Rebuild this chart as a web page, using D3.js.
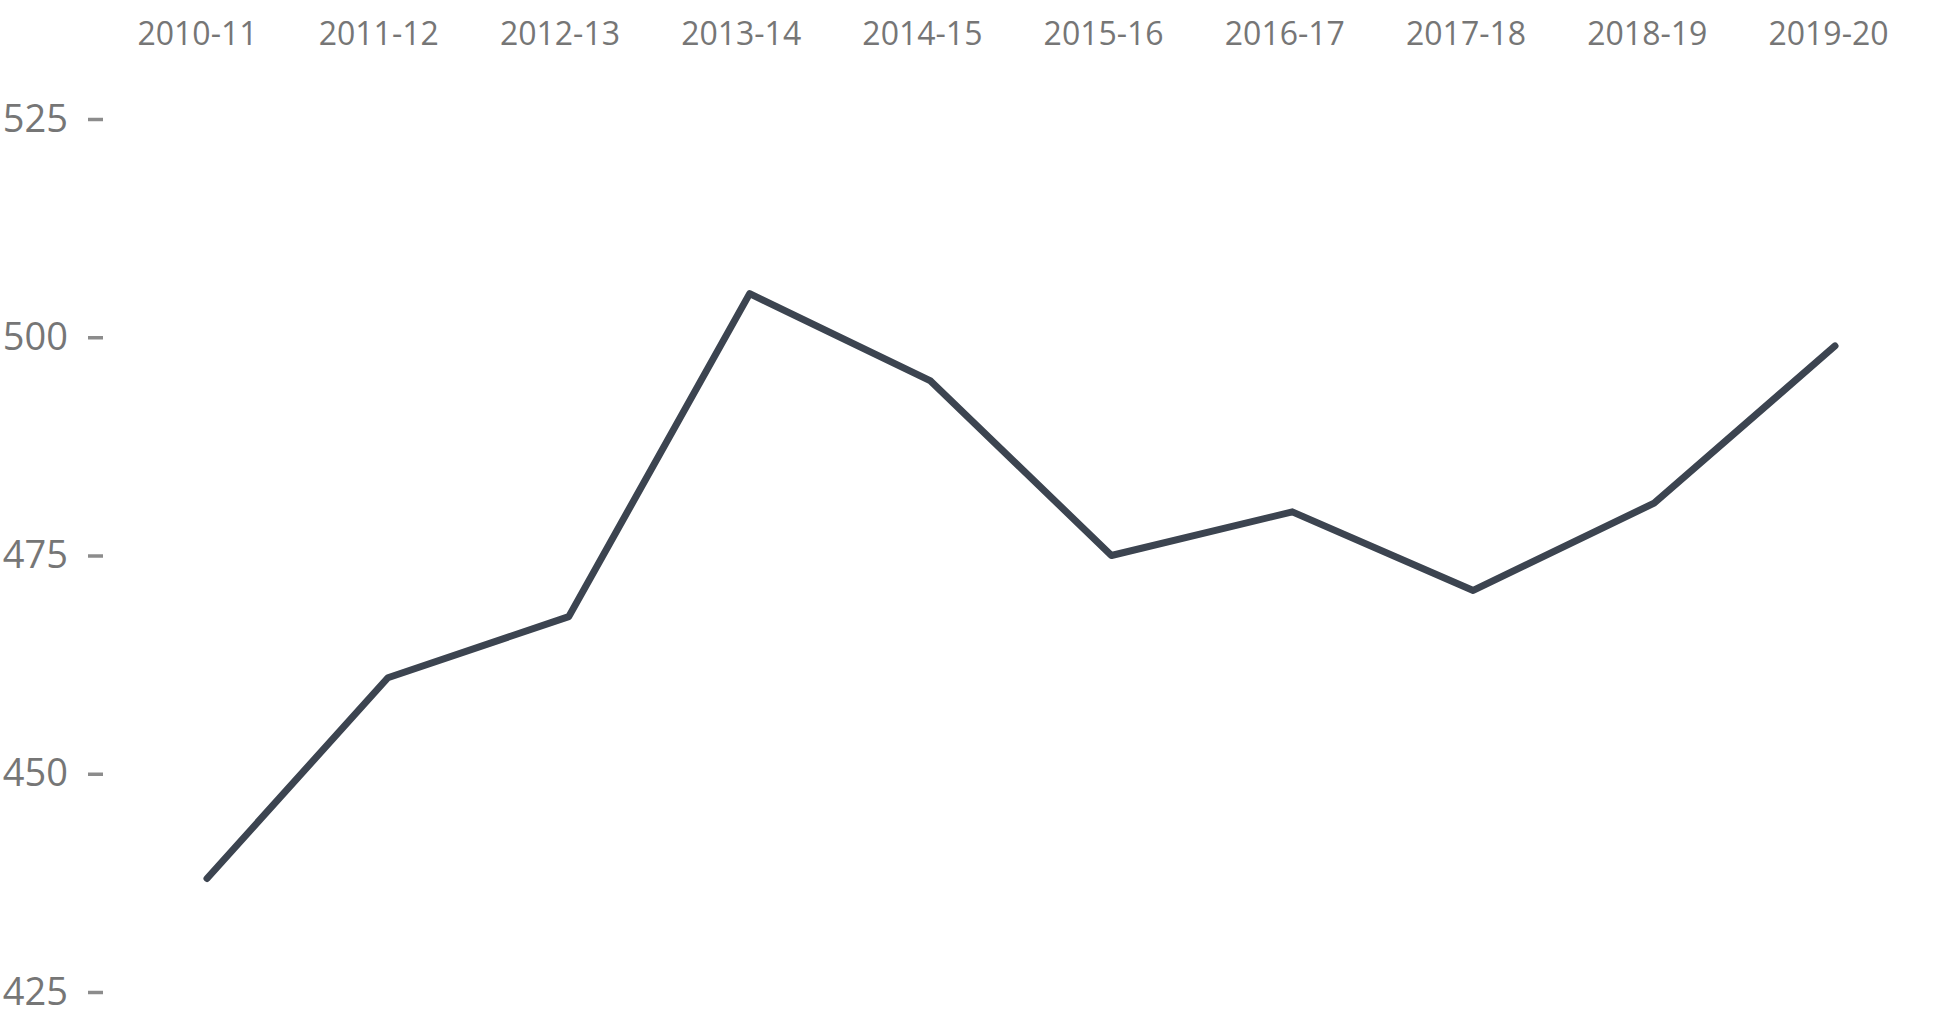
<!DOCTYPE html>
<html lang="en">
<head>
    <meta charset="UTF-8">
    <title>Chart</title>
    <script src="https://d3js.org/d3.v7.min.js"></script>
    <style>
        body { margin: 0; padding: 0; background: #fff; }
        svg { display: block; font-family: "Open Sans", sans-serif; }
    </style>
</head>
<body>
    <div class="visualization-container"></div>
    <script>
        var years = ["2010-11", "2011-12", "2012-13", "2013-14", "2014-15",
                     "2015-16", "2016-17", "2017-18", "2018-19", "2019-20"];
        var values = [438, 461, 468, 505, 495, 475, 480, 471, 481, 499];
        var yTicks = [425, 450, 475, 500, 525];

        var width = 1951, height = 1020;

        var svg = d3.select(".visualization-container").append("svg")
            .attr("width", width)
            .attr("height", height);

        var x = d3.scalePoint()
            .domain(years)
            .range([207, 1835]);

        // the year labels sit a little left of their points
        var xLabels = d3.scalePoint()
            .domain(years)
            .range([197, 1828]);

        var y = d3.scaleLinear()
            .domain([425, 525])
            .range([992, 119]);

        var xAxis = svg.append("g")
            .attr("transform", "translate(0,45)")
            .call(d3.axisTop(xLabels).tickSize(0).tickPadding(0));
        xAxis.select(".domain").remove();
        xAxis.selectAll("text")
            .attr("fill", "#767676")
            .style("font-size", "32px")
            .style("font-family", "'Open Sans', sans-serif");

        var yAxis = svg.append("g")
            .attr("transform", "translate(103,0)")
            .call(d3.axisLeft(y).tickValues(yTicks).tickSize(15).tickPadding(20));
        yAxis.select(".domain").remove();
        yAxis.selectAll("line")
            .attr("stroke", "#8c8c8c")
            .attr("stroke-width", 3.5);
        yAxis.selectAll("text")
            .attr("fill", "#767676")
            .style("font-size", "38px")
            .style("font-family", "'Open Sans', sans-serif");

        var line = d3.line()
            .x(function (d, i) { return x(years[i]); })
            .y(function (d) { return y(d); });

        svg.append("path")
            .datum(values)
            .attr("fill", "none")
            .attr("stroke", "#3c4450")
            .attr("stroke-width", 7)
            .attr("stroke-linecap", "round")
            .attr("stroke-linejoin", "round")
            .attr("d", line);
    </script>
</body>
</html>
